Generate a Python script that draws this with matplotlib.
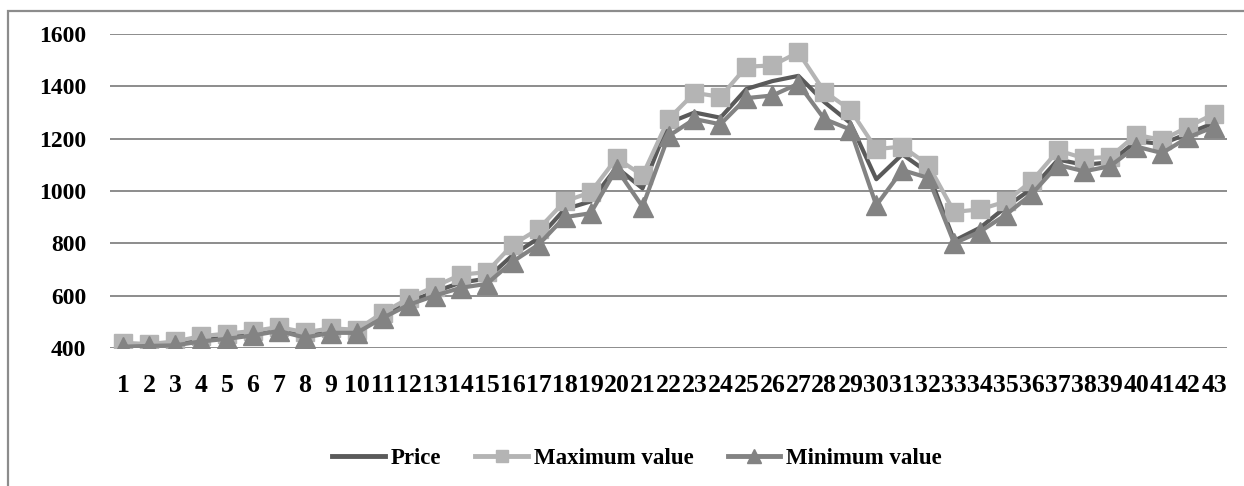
import numpy as np
import matplotlib
matplotlib.use("Agg")
import matplotlib.pyplot as plt
from matplotlib.patches import Rectangle

periods = list(range(1, 44))

price = [410, 412, 415, 430, 440, 455, 470, 445, 462, 462,
         520, 575, 615, 650, 665, 755, 820, 930, 960, 1090,
         1010, 1260, 1300, 1280, 1390, 1420, 1440, 1340, 1260, 1045,
         1140, 1070, 810, 860, 940, 1010, 1120, 1100, 1110, 1190,
         1180, 1220, 1260]

max_value = [420, 415, 425, 445, 455, 465, 480, 460, 475, 470,
             535, 590, 635, 680, 690, 795, 855, 960, 995, 1125,
             1060, 1275, 1375, 1360, 1475, 1480, 1530, 1380, 1310, 1160,
             1170, 1100, 920, 930, 960, 1040, 1155, 1125, 1130, 1215,
             1195, 1245, 1295]

min_value = [405, 408, 410, 425, 435, 448, 465, 440, 458, 458,
             515, 565, 600, 630, 645, 730, 795, 900, 915, 1085,
             940, 1210, 1275, 1255, 1355, 1365, 1410, 1275, 1235, 945,
             1080, 1050, 800, 845, 910, 990, 1100, 1075, 1095, 1170,
             1145, 1205, 1245]

yticks = [400, 600, 800, 1000, 1200, 1400, 1600]

plt.rcParams['font.family'] = ['Liberation Serif', 'DejaVu Serif']
plt.rcParams['font.weight'] = 'bold'

fig = plt.figure(figsize=(12.44, 4.86), dpi=100)
ax = fig.add_axes([110 / 1244, 1 - 348 / 486, 1117 / 1244, 314 / 486])

x = np.arange(len(periods))
ax.plot(x, price, color='#5a5a5a', lw=3, label='Price', zorder=3)
ax.plot(x, max_value, color='#b4b4b4', lw=3, marker='s', ms=13,
        label='Maximum value', zorder=4)
ax.plot(x, min_value, color='#838383', lw=3, marker='^', ms=14,
        label='Minimum value', zorder=5)

ax.set_xlim(-0.5, len(periods) - 0.5)
ax.set_ylim(400, 1600)
ax.set_yticks(yticks)
ax.set_xticks(x)
ax.set_xticklabels([str(p) for p in periods])
ax.yaxis.grid(True, color='#8c8c8c', lw=1.4)
ax.set_axisbelow(True)
for s in ['top', 'right', 'left', 'bottom']:
    ax.spines[s].set_visible(False)
ax.tick_params(axis='both', length=0)
ax.tick_params(axis='y', pad=17, labelsize=17)
ax.tick_params(axis='x', pad=19, labelsize=18.5)
for lab in ax.get_xticklabels() + ax.get_yticklabels():
    lab.set_fontweight('bold')

leg = fig.legend(loc='center', bbox_to_anchor=(0.512, 1 - 458 / 486), ncol=3,
                 frameon=False, handlelength=2.3, columnspacing=1.5,
                 handletextpad=0.25, markerscale=0.7,
                 prop={'size': 16.5, 'weight': 'bold'})
for h in leg.get_lines():
    h.set_linewidth(3.5)

# outer chart border
fig.patches.append(Rectangle((8 / 1244, -0.05), 1.1, 1 - 11 / 486 + 0.05,
                             transform=fig.transFigure, fill=False,
                             edgecolor='#8c8c8c', lw=1.6))

fig.savefig('out.png', dpi=100)
